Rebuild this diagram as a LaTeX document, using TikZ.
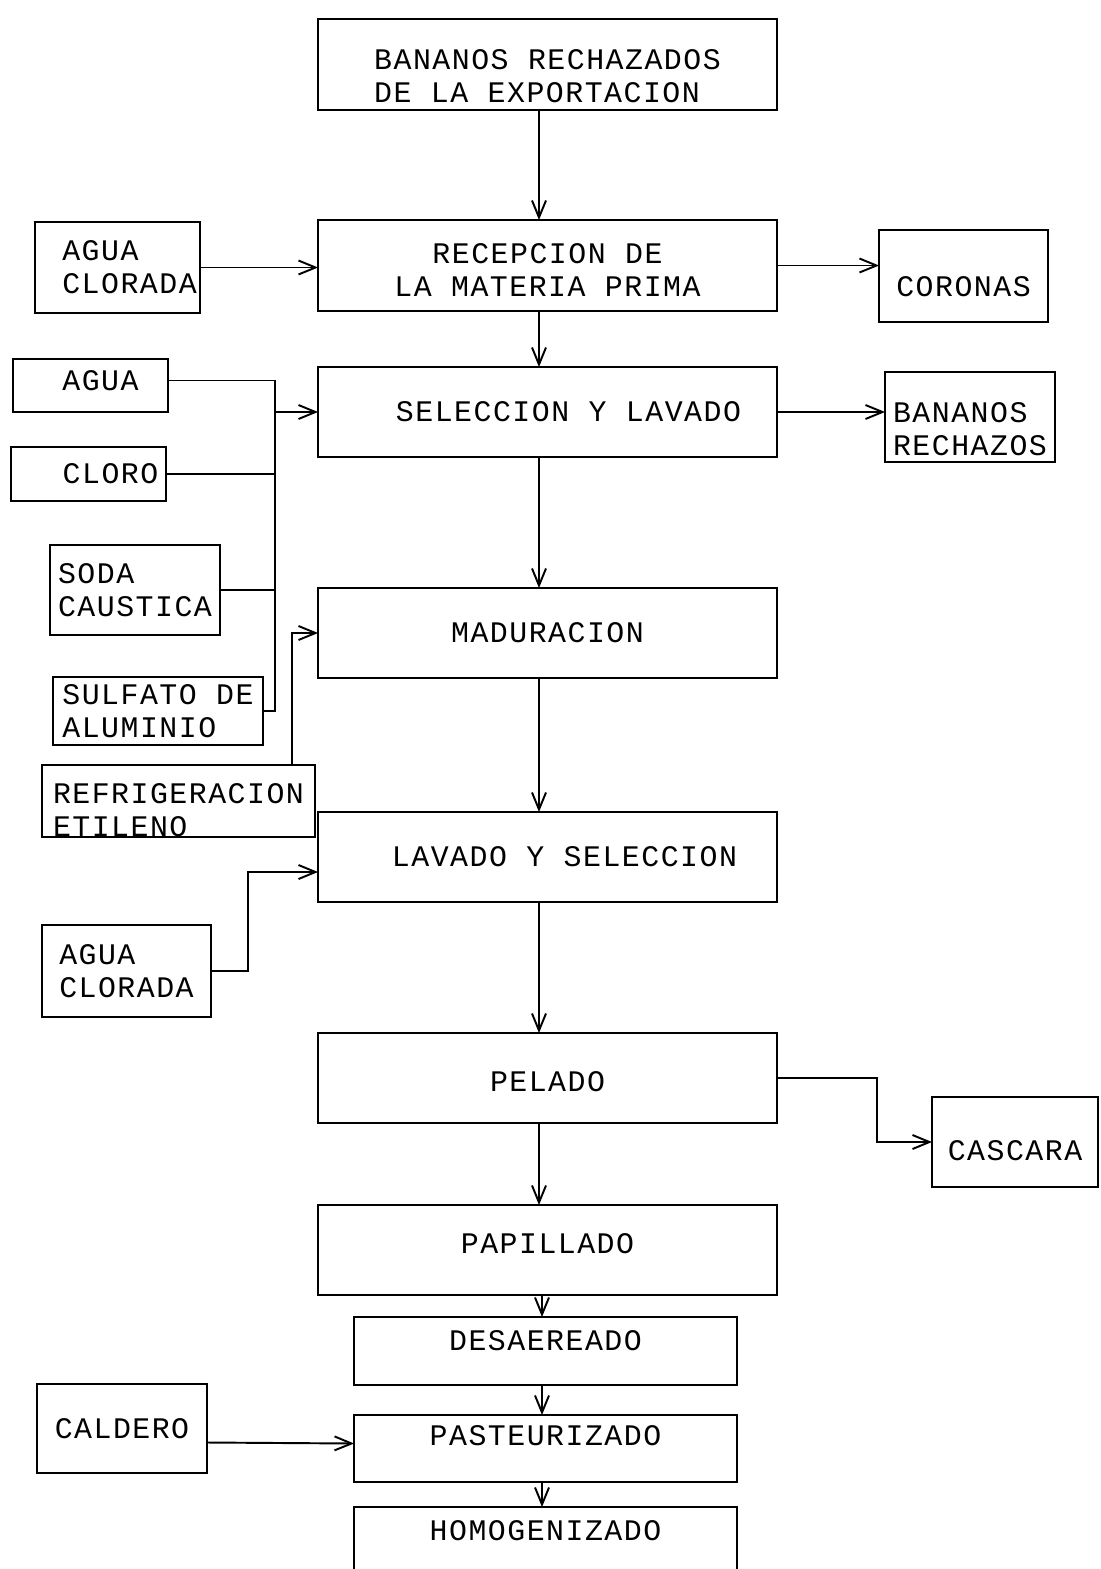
\documentclass[tikz,border=0pt]{standalone}
\usepackage{fontspec}
\newfontfamily\plotter[LetterSpace=5]{Liberation Mono}
\usetikzlibrary{arrows.meta}
\newcommand{\txtdown}[1]{\rule{0pt}{#1}}
\newcommand{\txtup}[1]{\rule[-#1]{0pt}{0pt}}

\begin{document}
\begin{tikzpicture}[x=0.02cm, y=-0.02cm,
  box/.style={draw, line width=1.1pt, inner sep=0pt, outer sep=0pt,
    font=\plotter\fontsize{17}{18.8}\selectfont},
  main/.style={box, minimum width=9.18cm, minimum height=1.8cm},
  small/.style={box, minimum width=7.66cm},
  feed/.style={box, minimum width=3.4cm, minimum height=1.8cm},
  flow/.style={line width=1.1pt, -{Straight Barb[length=0.34cm, width=0.28cm]}},
  link/.style={line width=1.1pt}]
  %%%%% START %%%%%
  \useasboundingbox (0,0) rectangle (1100,1569);
  \clip (0,0) rectangle (1100,1569);

  % main line
  \node[main, minimum height=1.82cm, align=left] (export) at (547.5,64.5) {\txtdown{0.86cm}BANANOS RECHAZADOS\\DE LA EXPORTACION};
  \node[main, minimum height=1.82cm, align=center] (recep) at (547.5,265.5) {\txtdown{0.58cm}RECEPCION DE\\LA MATERIA PRIMA};
  \node[main] (selec) at (547.5,412) {\hspace*{0.84cm}SELECCION Y LAVADO};
  \node[main] (madur) at (547.5,633) {MADURACION};
  \node[main] (lavado) at (547.5,857) {\hspace*{0.68cm}LAVADO Y SELECCION};
  \node[main] (pelado) at (547.5,1078) {\txtdown{0.56cm}PELADO};
  \node[main] (papill) at (547.5,1250) {\txtup{0.28cm}PAPILLADO};
  \node[small, minimum height=1.36cm] (desaer) at (545.5,1351) {\txtup{0.44cm}DESAEREADO};
  \node[small, minimum height=1.34cm] (pasteur) at (545.5,1448.5) {\txtup{0.52cm}PASTEURIZADO};
  \node[small, minimum height=1.66cm] (homog) at (545.5,1548.5) {\txtup{0.72cm}HOMOGENIZADO};

  % inputs and outputs
  \node[feed, minimum width=3.3cm, minimum height=1.82cm, align=left] (cloradaA) at (117.5,267.5) {\hspace*{0.48cm}AGUA\\\hspace*{0.48cm}CLORADA};
  \node[feed, minimum width=3.38cm, minimum height=1.84cm] (coronas) at (963.5,276) {\txtdown{0.82cm}CORONAS};
  \node[feed, align=left] (rechazos) at (970,417) {\txtdown{0.9cm}BANANOS\\RECHAZOS};
  \node[feed, minimum width=3.1cm, minimum height=1.06cm] (agua) at (90.5,385.5) {\hspace*{0.4cm}\txtup{0.2cm}AGUA};
  \node[feed, minimum width=3.1cm, minimum height=1.08cm] (cloro) at (88.5,474) {\hspace*{0.88cm}CLORO};
  \node[feed, align=left] (soda) at (135,590) {SODA\\CAUSTICA};
  \node[feed, minimum width=4.2cm, minimum height=1.36cm, align=left] (sulfato) at (158,711) {SULFATO DE\\ALUMINIO};
  \node[feed, minimum width=5.46cm, minimum height=1.36cm, align=left] (refrig) at (178.5,801) {\txtdown{0.76cm}REFRIGERACION\\ETILENO};
  \node[feed, minimum width=3.38cm, minimum height=1.84cm, align=left] (cloradaB) at (126.5,971) {AGUA\\CLORADA};
  \node[feed, minimum width=3.32cm] (cascara) at (1015,1142) {\txtdown{0.74cm}CASCARA};
  \node[feed, minimum height=1.78cm] (caldero) at (122,1428.5) {CALDERO};

  % connectors
  \coordinate (axis) at (539,0);
  \coordinate (axisB) at (542,0);
  \draw[flow] (export.south -| axis) -- (recep.north -| axis);
  \draw[flow] (recep.south -| axis) -- (selec.north -| axis);
  \draw[flow] (selec.south -| axis) -- (madur.north -| axis);
  \draw[flow] (madur.south -| axis) -- (lavado.north -| axis);
  \draw[flow] (lavado.south -| axis) -- (pelado.north -| axis);
  \draw[flow] (pelado.south -| axis) -- (papill.north -| axis);
  \draw[flow] (papill.south -| axisB) -- (desaer.north -| axisB);
  \draw[flow] (desaer.south -| axisB) -- (pasteur.north -| axisB);
  \draw[flow] (pasteur.south -| axisB) -- (homog.north -| axisB);

  \draw[flow] (cloradaA.east) -- (cloradaA.east -| recep.west);
  \draw[flow] (recep.east) -- (recep.east -| coronas.west);
  \draw[flow] (selec.east) -- (selec.east -| rechazos.west);

  \coordinate (bus) at (275,0);
  \draw[link] ([yshift=0.1cm]agua.east) -| (bus |- sulfato.east) -- (sulfato.east);
  \draw[link] (cloro.east) -- (cloro.east -| bus);
  \draw[link] (soda.east) -- (soda.east -| bus);
  \draw[flow] (bus |- selec.west) -- (selec.west);

  \coordinate (riser) at (292,0);
  \draw[flow] (riser |- refrig.north) |- (madur.west);

  \coordinate (bendB) at (248,0);
  \draw[flow] (cloradaB.east) -- (cloradaB.east -| bendB) |- ([yshift=-0.3cm]lavado.west);

  \coordinate (bendC) at (877,0);
  \draw[flow] (pelado.east) -- (pelado.east -| bendC) |- (cascara.west);

  \draw[flow] ([yshift=-0.28cm]caldero.east) -- ([yshift=0.1cm]pasteur.west);
  %%%%% END %%%%%
\end{tikzpicture}
\end{document}
